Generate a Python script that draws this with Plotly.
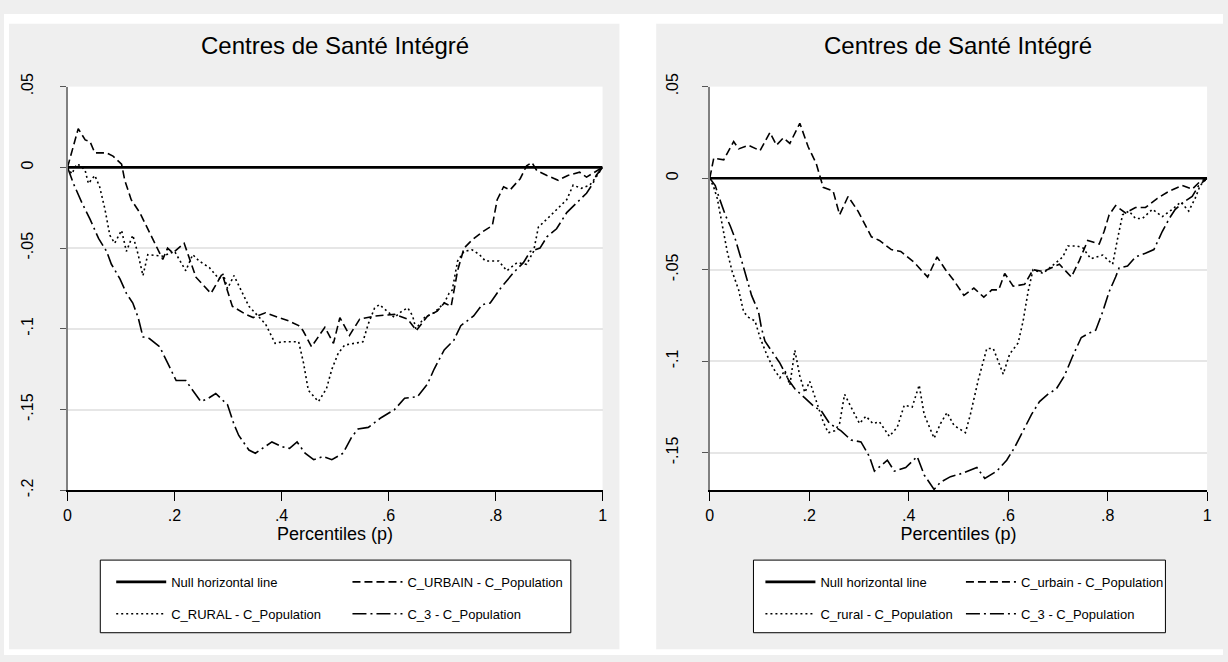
import plotly.graph_objects as go

# ---------------- data ----------------
TITLE = "Centres de Santé Intégré"
X_TITLE = "Percentiles (p)"
X_TICKS = [0, 0.2, 0.4, 0.6, 0.8, 1]
X_LABELS = ["0", ".2", ".4", ".6", ".8", "1"]
Y_TICKS_L = [0.05, 0, -0.05, -0.1, -0.15, -0.2]
Y_LABELS_L = [".05", "0", "-.05", "-.1", "-.15", "-.2"]
Y_TICKS_R = [0.05, 0, -0.05, -0.1, -0.15]
Y_LABELS_R = [".05", "0", "-.05", "-.1", "-.15"]

NULL_P = [0, 1]
NULL_V = [0, 0]

# left panel: C_URBAIN - C_Population
P_URB_L = [0, .020, .033, .042, .051, .073, .085, .101, .107, .119, .135, .153, .166, .178, .187,
           .197, .218, .240, .268, .289, .308, .333, .347, .370, .395, .413, .432, .440, .456,
           .469, .481, .497, .509, .527, .546, .575, .611, .636, .652, .673, .691, .704, .717,
           .729, .741, .756, .775, .794, .803, .815, .827, .846, .858, .868, .877, .896, .917,
           .935, .957, .970, .985, 1.0]
V_URB_L = [0, .024, .017, .016, .009, .009, .007, .002, -.008, -.020, -.028, -.040, -.048, -.057,
           -.050, -.053, -.047, -.068, -.078, -.066, -.086, -.091, -.093, -.090, -.093, -.095,
           -.098, -.101, -.111, -.105, -.099, -.109, -.093, -.104, -.094, -.092, -.091, -.094,
           -.101, -.092, -.089, -.084, -.086, -.064, -.050, -.045, -.040, -.036, -.020, -.012,
           -.014, -.007, .001, .003, -.002, -.005, -.008, -.005, -.003, -.006, -.003, 0]

# left panel: C_RURAL - C_Population
P_RUR_L = [0, .008, .017, .025, .033, .039, .051, .060, .070, .079, .088, .101, .110, .122, .132,
           .141, .150, .178, .200, .221, .234, .246, .265, .283, .291, .299, .311, .320, .339,
           .370, .388, .401, .432, .441, .450, .469, .484, .494, .506, .518, .552, .562, .574,
           .583, .600, .611, .625, .636, .645, .651, .667, .685, .704, .713, .719, .723, .729,
           .741, .756, .770, .781, .806, .821, .840, .858, .871, .880, .896, .914, .933, .945,
           .960, .976, .988, 1.0]
V_RUR_L = [0, -.004, .002, .001, -.002, -.010, -.005, -.012, -.026, -.042, -.047, -.039, -.052,
           -.042, -.054, -.067, -.054, -.055, -.052, -.064, -.054, -.058, -.062, -.069, -.066,
           -.075, -.067, -.073, -.086, -.097, -.109, -.108, -.108, -.121, -.138, -.145, -.137,
           -.125, -.115, -.110, -.108, -.097, -.087, -.085, -.090, -.093, -.089, -.087, -.092,
           -.100, -.093, -.090, -.084, -.078, -.076, -.068, -.058, -.052, -.051, -.054, -.058,
           -.058, -.064, -.059, -.060, -.052, -.037, -.032, -.026, -.020, -.011, -.013, -.011,
           -.006, 0]

# left panel: C_3 - C_Population
P_C3_L = [0, .011, .027, .042, .058, .073, .082, .098, .110, .122, .132, .141, .153, .172, .187,
          .203, .221, .237, .249, .263, .277, .299, .311, .320, .339, .351, .365, .382, .401,
          .415, .429, .444, .460, .478, .494, .515, .531, .543, .562, .586, .611, .630, .654,
          .673, .685, .704, .722, .735, .759, .775, .790, .809, .834, .852, .865, .883, .896,
          .914, .933, .951, .970, .982, .988, 1.0]
V_C3_L = [0, -.010, -.022, -.032, -.044, -.052, -.060, -.069, -.078, -.084, -.093, -.105, -.106,
          -.111, -.121, -.132, -.132, -.139, -.145, -.143, -.140, -.147, -.159, -.166, -.175,
          -.177, -.174, -.170, -.173, -.174, -.170, -.177, -.181, -.179, -.181, -.177, -.167,
          -.162, -.161, -.155, -.150, -.143, -.142, -.134, -.125, -.113, -.107, -.098, -.092,
          -.085, -.084, -.075, -.065, -.059, -.052, -.050, -.043, -.038, -.028, -.022, -.016,
          -.010, -.005, 0]

# right panel: C_urbain - C_Population
P_URB_R = [0, .008, .028, .048, .058, .078, .101, .121, .134, .148, .161, .181, .198, .214, .228,
           .248, .261, .278, .298, .325, .341, .365, .384, .411, .438, .457, .474, .491, .511,
           .531, .551, .567, .581, .593, .610, .633, .650, .670, .703, .727, .743, .760, .783,
           .793, .803, .816, .836, .856, .876, .900, .924, .950, .970, .985, 1.0]
V_URB_R = [0, .011, .010, .020, .016, .018, .015, .025, .018, .022, .019, .030, .017, .008, -.005,
           -.007, -.020, -.010, -.018, -.032, -.034, -.039, -.040, -.046, -.054, -.043, -.050,
           -.056, -.064, -.060, -.065, -.061, -.061, -.052, -.059, -.058, -.050, -.051, -.047,
           -.054, -.045, -.034, -.036, -.029, -.020, -.015, -.019, -.016, -.016, -.011, -.007,
           -.004, -.006, -.002, 0]

# right panel: C_rural - C_Population
P_RUR_R = [0, .008, .015, .025, .035, .045, .058, .068, .078, .091, .101, .114, .128, .141, .151,
           .161, .171, .181, .191, .201, .214, .228, .238, .251, .261, .271, .284, .301, .314,
           .328, .341, .361, .377, .391, .407, .421, .431, .451, .464, .477, .491, .514, .524,
           .540, .557, .570, .590, .603, .620, .630, .640, .650, .670, .697, .710, .720, .737,
           .750, .766, .790, .810, .820, .830, .843, .856, .870, .890, .910, .930, .947, .963,
           .976, .986, 1.0]
V_RUR_R = [0, -.005, -.011, -.026, -.040, -.051, -.061, -.073, -.076, -.078, -.087, -.096, -.104,
           -.109, -.105, -.113, -.094, -.108, -.117, -.111, -.122, -.133, -.139, -.138, -.134,
           -.118, -.125, -.134, -.130, -.134, -.133, -.141, -.136, -.124, -.125, -.113, -.129,
           -.142, -.134, -.128, -.135, -.139, -.129, -.110, -.093, -.093, -.107, -.096, -.090,
           -.078, -.062, -.050, -.052, -.046, -.043, -.037, -.037, -.038, -.044, -.042, -.047,
           -.033, -.020, -.018, -.022, -.022, -.017, -.021, -.017, -.013, -.018, -.011, -.004, 0]

# right panel: C_3 - C_Population
P_C3_R = [0, .011, .018, .031, .041, .051, .064, .074, .084, .098, .104, .111, .124, .141, .158,
          .171, .191, .211, .224, .241, .264, .284, .304, .321, .331, .357, .371, .394, .417,
          .431, .451, .464, .484, .510, .537, .553, .577, .597, .613, .630, .647, .663, .680,
          .697, .713, .730, .747, .760, .776, .790, .803, .816, .823, .840, .856, .876, .893,
          .910, .924, .936, .953, .970, .983, 1.0]
V_C3_R = [0, -.004, -.010, -.020, -.026, -.033, -.045, -.054, -.064, -.073, -.082, -.089, -.094,
          -.101, -.110, -.115, -.120, -.125, -.127, -.134, -.138, -.143, -.144, -.152, -.160,
          -.154, -.160, -.158, -.152, -.162, -.170, -.166, -.163, -.161, -.158, -.164, -.160,
          -.154, -.147, -.138, -.129, -.122, -.118, -.115, -.108, -.097, -.087, -.085, -.083,
          -.073, -.062, -.054, -.049, -.048, -.043, -.041, -.039, -.029, -.022, -.017, -.013,
          -.010, -.004, 0]

# ---------------- styling ----------------
W, H = 1228, 662
FONT = "Liberation Sans, Arial, sans-serif"
PANEL_GREY = "#EFEFEF"
DASH = "8px,4px"
DOT = "2px,3px"
LONGDASH_DOT = "14px,4px,2px,4px"


def fx(px):
    return px / W


def fy(py):
    return 1 - py / H


LEFT_DOM = [fx(64), fx(603)]
RIGHT_DOM = [fx(711), fx(1212)]
Y_DOM = [fy(492), fy(75)]

fig = go.Figure()


def add_series(p, v, name, dash, width, axis_suffix, legend_id, group):
    fig.add_trace(go.Scatter(
        x=p, y=v, mode="lines", name=name,
        line=dict(color="black", width=width, dash=dash),
        xaxis="x" + axis_suffix, yaxis="y" + axis_suffix,
        legend=legend_id, legendgroup=group, hoverinfo="skip",
    ))


# left graph
add_series(NULL_P, NULL_V, "Null horizontal line", "solid", 2.6, "", "legend", "l1")
add_series(P_RUR_L, V_RUR_L, "C_RURAL - C_Population", DOT, 1.6, "", "legend", "l2")
add_series(P_URB_L, V_URB_L, "C_URBAIN - C_Population", DASH, 1.6, "", "legend2", "l3")
add_series(P_C3_L, V_C3_L, "C_3 - C_Population", LONGDASH_DOT, 1.6, "", "legend2", "l4")

# right graph
add_series(NULL_P, NULL_V, "Null horizontal line", "solid", 2.6, "2", "legend3", "r1")
add_series(P_RUR_R, V_RUR_R, "C_rural - C_Population", DOT, 1.6, "2", "legend3", "r2")
add_series(P_URB_R, V_URB_R, "C_urbain - C_Population", DASH, 1.6, "2", "legend4", "r3")
add_series(P_C3_R, V_C3_R, "C_3 - C_Population", LONGDASH_DOT, 1.6, "2", "legend4", "r4")

tick_font = dict(family=FONT, size=16, color="black")


def xaxis_cfg(domain, anchor):
    return dict(
        domain=domain, anchor=anchor, range=[0, 1],
        tickvals=X_TICKS, ticktext=X_LABELS, tickfont=tick_font,
        ticks="outside", ticklen=9, tickwidth=1.2, tickcolor="black",
        showline=True, linecolor="black", linewidth=2,
        showgrid=False, zeroline=False, fixedrange=True,
        title=dict(text=X_TITLE, font=dict(family=FONT, size=18, color="black"), standoff=4),
    )


def yaxis_cfg(anchor, rng, vals, labels, standoff):
    return dict(
        domain=Y_DOM, anchor=anchor, range=rng,
        tickvals=vals, ticktext=labels, tickfont=tick_font, tickangle=-90,
        ticks="outside", ticklen=6, tickwidth=1.2, tickcolor="#555555",
        ticklabelstandoff=standoff,
        showline=True, linecolor="#808080", linewidth=1.5,
        showgrid=True, gridcolor="#E6E6E6", gridwidth=2,
        zeroline=False, fixedrange=True,
    )


def legend_cfg(x_px, y_px):
    return dict(
        x=fx(x_px), y=fy(y_px), xanchor="left", yanchor="top",
        orientation="v", traceorder="grouped", tracegroupgap=12,
        bgcolor="rgba(0,0,0,0)", borderwidth=0, itemwidth=50,
        font=dict(family=FONT, size=13, color="black"),
    )


def rect(x0, y0, x1, y1, fill, line_w=0):
    return dict(type="rect", xref="paper", yref="paper",
                x0=fx(x0), x1=fx(x1), y0=fy(y1), y1=fy(y0),
                fillcolor=fill, line=dict(color="black", width=line_w),
                layer="below")


shapes = [
    # white surround and gap between the two graph regions
    rect(0, 0, W, 10, "white"),
    rect(0, 656, W, H, "white"),
    rect(0, 0, 5, H, "white"),
    rect(620, 0, 657, H, "white"),
    # legend frames
    rect(97, 564, 571, 639, "white", 1),
    rect(755, 564, 1170, 639, "white", 1),
]

annotations = [
    dict(text=TITLE, xref="paper", yref="paper", x=sum(LEFT_DOM) / 2, y=fy(33),
         xanchor="center", yanchor="middle", showarrow=False,
         font=dict(family=FONT, size=24, color="black")),
    dict(text=TITLE, xref="paper", yref="paper", x=sum(RIGHT_DOM) / 2, y=fy(33),
         xanchor="center", yanchor="middle", showarrow=False,
         font=dict(family=FONT, size=24, color="black")),
]

fig.update_layout(
    width=W, height=H, margin=dict(l=0, r=0, t=0, b=0),
    paper_bgcolor=PANEL_GREY, plot_bgcolor="white",
    font=dict(family=FONT, color="black"),
    xaxis=xaxis_cfg(LEFT_DOM, "y"),
    yaxis=yaxis_cfg("x", [-0.2, 0.05], Y_TICKS_L, Y_LABELS_L, 20),
    xaxis2=xaxis_cfg(RIGHT_DOM, "y2"),
    yaxis2=yaxis_cfg("x2", [-0.1705, 0.05], Y_TICKS_R, Y_LABELS_R, 18),
    legend=legend_cfg(108, 571),
    legend2=legend_cfg(346, 571),
    legend3=legend_cfg(762, 571),
    legend4=legend_cfg(964, 571),
    shapes=shapes, annotations=annotations,
    showlegend=True,
)

fig.write_html("out.html")
